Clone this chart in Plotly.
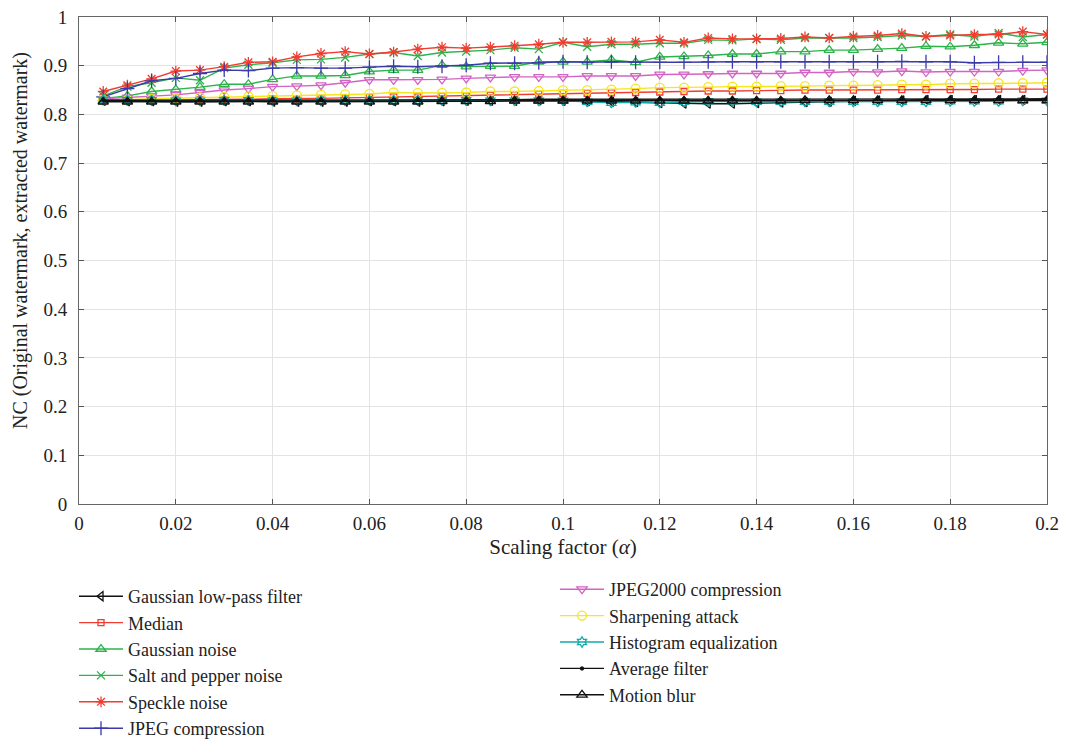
import plotly.graph_objects as go

alpha = [0.005, 0.010, 0.015, 0.020, 0.025, 0.030, 0.035, 0.040, 0.045, 0.050,
         0.055, 0.060, 0.065, 0.070, 0.075, 0.080, 0.085, 0.090, 0.095, 0.100,
         0.105, 0.110, 0.115, 0.120, 0.125, 0.130, 0.135, 0.140, 0.145, 0.150,
         0.155, 0.160, 0.165, 0.170, 0.175, 0.180, 0.185, 0.190, 0.195, 0.200]

gaussian_lpf = [0.828, 0.827, 0.827, 0.826, 0.826, 0.827, 0.827, 0.826, 0.826, 0.826,
                0.826, 0.827, 0.827, 0.826, 0.827, 0.828, 0.828, 0.828, 0.829, 0.828,
                0.827, 0.826, 0.825, 0.823, 0.822, 0.822, 0.822, 0.823, 0.824, 0.825,
                0.826, 0.828, 0.829, 0.829, 0.830, 0.830, 0.830, 0.830, 0.830, 0.830]
median = [0.828, 0.828, 0.829, 0.829, 0.830, 0.830, 0.831, 0.832, 0.832, 0.833,
          0.834, 0.835, 0.836, 0.836, 0.837, 0.838, 0.839, 0.840, 0.841, 0.843,
          0.843, 0.844, 0.845, 0.846, 0.847, 0.848, 0.848, 0.849, 0.849, 0.850,
          0.850, 0.850, 0.850, 0.851, 0.851, 0.851, 0.851, 0.852, 0.852, 0.852]
gaussian_noise = [0.833, 0.838, 0.847, 0.851, 0.856, 0.862, 0.862, 0.872, 0.879, 0.879,
                  0.880, 0.888, 0.891, 0.891, 0.901, 0.898, 0.899, 0.899, 0.908, 0.908,
                  0.908, 0.912, 0.907, 0.918, 0.919, 0.921, 0.924, 0.924, 0.929, 0.929,
                  0.932, 0.932, 0.934, 0.936, 0.940, 0.939, 0.942, 0.947, 0.945, 0.948]
salt_pepper = [0.838, 0.857, 0.865, 0.875, 0.870, 0.895, 0.902, 0.906, 0.912, 0.913,
               0.917, 0.924, 0.927, 0.920, 0.927, 0.929, 0.932, 0.937, 0.934, 0.948,
               0.939, 0.944, 0.944, 0.946, 0.946, 0.953, 0.952, 0.955, 0.953, 0.957,
               0.957, 0.957, 0.959, 0.962, 0.960, 0.964, 0.960, 0.967, 0.959, 0.964]
speckle = [0.847, 0.860, 0.873, 0.889, 0.891, 0.898, 0.907, 0.908, 0.918, 0.925,
           0.929, 0.924, 0.928, 0.934, 0.938, 0.936, 0.938, 0.941, 0.944, 0.948,
           0.948, 0.949, 0.949, 0.953, 0.948, 0.957, 0.955, 0.955, 0.956, 0.959,
           0.957, 0.960, 0.962, 0.966, 0.960, 0.962, 0.964, 0.964, 0.970, 0.964]
jpeg = [0.836, 0.853, 0.869, 0.874, 0.884, 0.891, 0.890, 0.895, 0.896, 0.895,
        0.895, 0.897, 0.899, 0.898, 0.899, 0.901, 0.905, 0.905, 0.906, 0.908,
        0.907, 0.908, 0.907, 0.907, 0.907, 0.908, 0.908, 0.908, 0.908, 0.908,
        0.908, 0.908, 0.908, 0.909, 0.908, 0.908, 0.906, 0.907, 0.907, 0.907]
jpeg2000 = [0.832, 0.835, 0.838, 0.840, 0.845, 0.850, 0.853, 0.857, 0.858, 0.860,
            0.865, 0.871, 0.871, 0.871, 0.872, 0.874, 0.876, 0.877, 0.877, 0.877,
            0.879, 0.879, 0.879, 0.882, 0.882, 0.883, 0.884, 0.884, 0.884, 0.886,
            0.886, 0.888, 0.887, 0.889, 0.887, 0.888, 0.888, 0.888, 0.890, 0.891]
sharpening = [0.830, 0.830, 0.832, 0.833, 0.835, 0.836, 0.837, 0.838, 0.839, 0.840,
              0.841, 0.842, 0.845, 0.844, 0.844, 0.845, 0.847, 0.847, 0.848, 0.850,
              0.850, 0.851, 0.853, 0.855, 0.855, 0.856, 0.857, 0.857, 0.858, 0.858,
              0.859, 0.859, 0.860, 0.861, 0.861, 0.863, 0.863, 0.864, 0.864, 0.865]
hist_eq = [0.830, 0.829, 0.829, 0.828, 0.828, 0.829, 0.829, 0.828, 0.828, 0.828,
           0.829, 0.829, 0.829, 0.829, 0.829, 0.829, 0.828, 0.828, 0.828, 0.828,
           0.826, 0.824, 0.825, 0.824, 0.826, 0.827, 0.827, 0.826, 0.826, 0.826,
           0.826, 0.826, 0.826, 0.826, 0.826, 0.827, 0.827, 0.827, 0.828, 0.828]
average = [0.829, 0.829, 0.829, 0.829, 0.829, 0.829, 0.829, 0.829, 0.829, 0.830,
           0.830, 0.830, 0.830, 0.830, 0.830, 0.830, 0.830, 0.830, 0.831, 0.831,
           0.831, 0.831, 0.831, 0.831, 0.831, 0.831, 0.831, 0.831, 0.831, 0.831,
           0.831, 0.832, 0.832, 0.832, 0.832, 0.832, 0.832, 0.832, 0.832, 0.832]
motion_blur = [0.826, 0.826, 0.826, 0.826, 0.826, 0.826, 0.826, 0.826, 0.826, 0.826,
               0.826, 0.826, 0.826, 0.826, 0.827, 0.827, 0.827, 0.828, 0.828, 0.828,
               0.828, 0.828, 0.828, 0.828, 0.828, 0.828, 0.828, 0.828, 0.828, 0.829,
               0.829, 0.829, 0.829, 0.829, 0.829, 0.829, 0.829, 0.829, 0.829, 0.829]

x_ticks = [0, 0.02, 0.04, 0.06, 0.08, 0.1, 0.12, 0.14, 0.16, 0.18, 0.2]
x_tick_labels = ["0", "0.02", "0.04", "0.06", "0.08", "0.1", "0.12", "0.14", "0.16", "0.18", "0.2"]
y_ticks = [0, 0.1, 0.2, 0.3, 0.4, 0.5, 0.6, 0.7, 0.8, 0.9, 1]
y_tick_labels = ["0", "0.1", "0.2", "0.3", "0.4", "0.5", "0.6", "0.7", "0.8", "0.9", "1"]
x_title = "Scaling factor (<i>α</i>)"
y_title = "NC (Original watermark, extracted watermark)"

RED = "#f03c32"
GREEN = "#2db34a"
BLUE = "#3a3aa8"
MAGENTA = "#d264c4"
YELLOW = "#f5e61e"
TEAL = "#14a8a8"
BLACK = "#111111"

series = [
    ("Gaussian low-pass filter", gaussian_lpf, BLACK, "triangle-left-open", 8, "legend"),
    ("Median", median, RED, "square-open", 6, "legend"),
    ("Gaussian noise", gaussian_noise, GREEN, "triangle-up-open", 9, "legend"),
    ("Salt and pepper noise", salt_pepper, GREEN, "x-thin-open", 8, "legend"),
    ("Speckle noise", speckle, RED, "asterisk-open", 9, "legend"),
    ("JPEG compression", jpeg, BLUE, "cross-thin-open", 10, "legend"),
    ("JPEG2000 compression", jpeg2000, MAGENTA, "triangle-down-open", 9, "legend2"),
    ("Sharpening attack", sharpening, YELLOW, "circle-open", 9, "legend2"),
    ("Histogram equalization", hist_eq, TEAL, "hexagram-open", 8, "legend2"),
    ("Average filter", average, BLACK, "circle", 3, "legend2"),
    ("Motion blur", motion_blur, BLACK, "triangle-up-open", 9, "legend2"),
]

FONT = "Liberation Serif"

fig = go.Figure()
for name, vals, color, sym, size, leg in series:
    fig.add_trace(go.Scatter(
        x=alpha, y=vals, name=name, mode="lines+markers",
        line=dict(color=color, width=1.4),
        marker=dict(symbol=sym, size=size, color=color, line=dict(color=color, width=1.3)),
        legend=leg,
    ))

legend_common = dict(
    font=dict(family=FONT, size=18, color="#222222"),
    bgcolor="rgba(0,0,0,0)", borderwidth=0, itemwidth=44,
    orientation="v", xanchor="left", yanchor="top", tracegroupgap=0,
    xref="container", yref="container",
)

fig.update_layout(
    width=1065, height=746,
    margin=dict(l=79, r=18, t=17, b=242, autoexpand=False),
    paper_bgcolor="white", plot_bgcolor="white",
    font=dict(family=FONT, size=19, color="#222222"),
    showlegend=True,
    legend=dict(x=74 / 1065, y=1 - 578 / 746, **legend_common),
    legend2=dict(x=555 / 1065, y=1 - 571 / 746, **legend_common),
    xaxis=dict(
        range=[0, 0.2], tickmode="array", tickvals=x_ticks, ticktext=x_tick_labels,
        ticks="inside", ticklen=5, tickcolor="#555555", mirror="ticks",
        showline=True, linecolor="#666666", linewidth=1,
        showgrid=True, gridcolor="#e3e3e3", gridwidth=1, zeroline=False,
        title=dict(text=x_title, font=dict(family=FONT, size=21), standoff=6),
        tickfont=dict(family=FONT, size=19), ticklabelstandoff=2,
    ),
    yaxis=dict(
        range=[0, 1], tickmode="array", tickvals=y_ticks, ticktext=y_tick_labels,
        ticks="inside", ticklen=5, tickcolor="#555555", mirror="ticks",
        showline=True, linecolor="#666666", linewidth=1,
        showgrid=True, gridcolor="#e3e3e3", gridwidth=1, zeroline=False,
        tickfont=dict(family=FONT, size=19), ticklabelstandoff=7,
    ),
    annotations=[dict(
        text=y_title, textangle=-90, xref="paper", yref="paper",
        x=(20 - 79) / 968, y=0.54, xanchor="center", yanchor="middle", showarrow=False,
        font=dict(family=FONT, size=20, color="#222222"),
    )],
)

fig.write_html("out.html", config={"displayModeBar": False},
               post_script="document.body.style.margin='0px';document.body.style.overflow='hidden';")
